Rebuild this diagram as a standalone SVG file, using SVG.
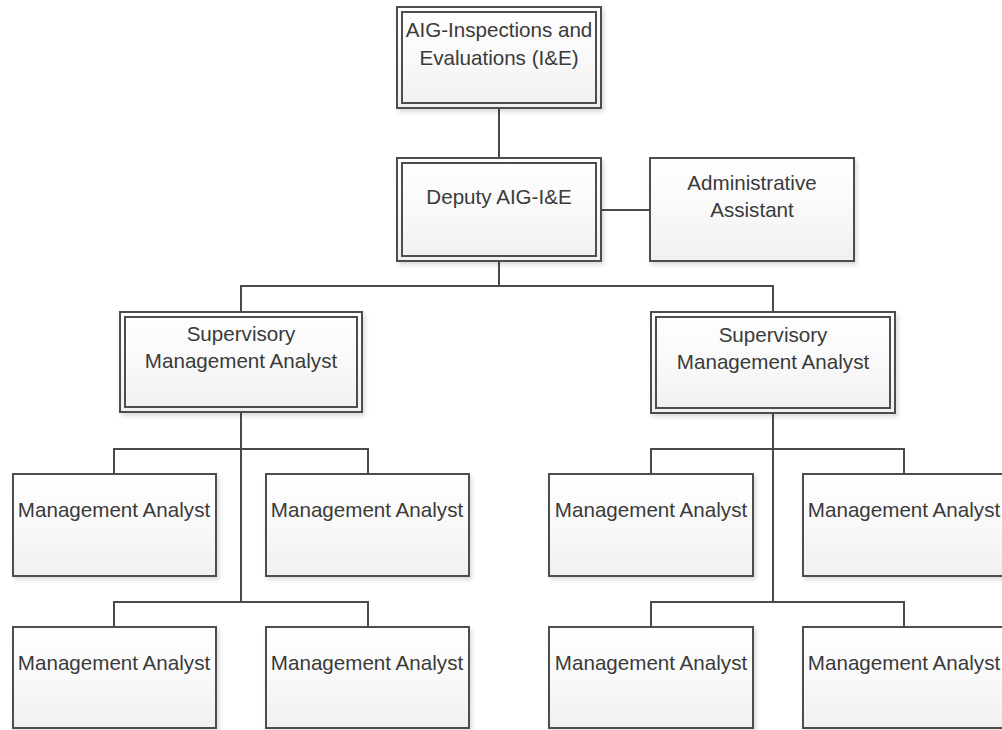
<svg xmlns="http://www.w3.org/2000/svg" width="1002" height="730" viewBox="0 0 1002 730">
<style>
.box{fill:url(#g);stroke:#4d4d4d;stroke-width:2;filter:url(#sh)}
.inner{fill:none;stroke:#4d4d4d;stroke-width:2}
.t{font-family:"Liberation Sans",Arial,sans-serif;font-size:20.6px;fill:#3a3a3a;text-anchor:middle}
.c{fill:none;stroke:#4a4a4a;stroke-width:2}
</style>
<defs>
<linearGradient id="g" x1="0" y1="0" x2="0" y2="1">
<stop offset="0" stop-color="#ffffff"/>
<stop offset="0.5" stop-color="#f9f9f9"/>
<stop offset="1" stop-color="#f0f0f0"/>
</linearGradient>
<filter id="sh" x="-10%" y="-10%" width="125%" height="130%">
<feDropShadow dx="2" dy="3" stdDeviation="2" flood-color="#000" flood-opacity="0.14"/>
</filter>
</defs>
<rect width="1002" height="730" fill="#fff"/>
<g id="connectors">
<path class="c" d="M499 108V158"/>
<path class="c" d="M601 210H650"/>
<path class="c" d="M499 261V286M241 312V286H773V312"/>
<path class="c" d="M241 412V602M114 474V449H368V474M114 627V602H368V627"/>
<path class="c" d="M773 413V602M651 474V449H904V474M651 627V602H904V627"/>
</g>
<g id="aig">
<rect class="box" x="397" y="7" width="204" height="101"/>
<rect class="inner" x="402" y="12" width="194" height="91"/>
<text class="t" x="499" y="37">AIG-Inspections and</text>
<text class="t" x="499" y="65">Evaluations (I&amp;E)</text>
</g>
<g id="deputy">
<rect class="box" x="397" y="158" width="204" height="103"/>
<rect class="inner" x="402" y="163" width="194" height="93"/>
<text class="t" x="499" y="204">Deputy AIG-I&amp;E</text>
</g>
<g id="admin">
<rect class="box" x="650" y="158" width="204" height="103"/>
<text class="t" x="752" y="190">Administrative</text>
<text class="t" x="752" y="217">Assistant</text>
</g>
<g id="supL">
<rect class="box" x="120" y="312" width="242" height="100"/>
<rect class="inner" x="125" y="317" width="232" height="90"/>
<text class="t" x="241" y="341">Supervisory</text>
<text class="t" x="241" y="368">Management Analyst</text>
</g>
<g id="supR">
<rect class="box" x="651" y="312" width="244" height="101"/>
<rect class="inner" x="656" y="317" width="234" height="91"/>
<text class="t" x="773" y="342">Supervisory</text>
<text class="t" x="773" y="369">Management Analyst</text>
</g>
<g id="ma1">
<rect class="box" x="13" y="474" width="203" height="102"/>
<text class="t" x="114" y="517">Management Analyst</text>
</g>
<g id="ma2">
<rect class="box" x="266" y="474" width="203" height="102"/>
<text class="t" x="367" y="517">Management Analyst</text>
</g>
<g id="ma3">
<rect class="box" x="549" y="474" width="204" height="102"/>
<text class="t" x="651" y="517">Management Analyst</text>
</g>
<g id="ma4">
<rect class="box" x="803" y="474" width="203" height="102"/>
<text class="t" x="904" y="517">Management Analyst</text>
</g>
<g id="ma5">
<rect class="box" x="13" y="627" width="203" height="101"/>
<text class="t" x="114" y="670">Management Analyst</text>
</g>
<g id="ma6">
<rect class="box" x="266" y="627" width="203" height="101"/>
<text class="t" x="367" y="670">Management Analyst</text>
</g>
<g id="ma7">
<rect class="box" x="549" y="627" width="204" height="101"/>
<text class="t" x="651" y="670">Management Analyst</text>
</g>
<g id="ma8">
<rect class="box" x="803" y="627" width="203" height="101"/>
<text class="t" x="904" y="670">Management Analyst</text>
</g>
</svg>
